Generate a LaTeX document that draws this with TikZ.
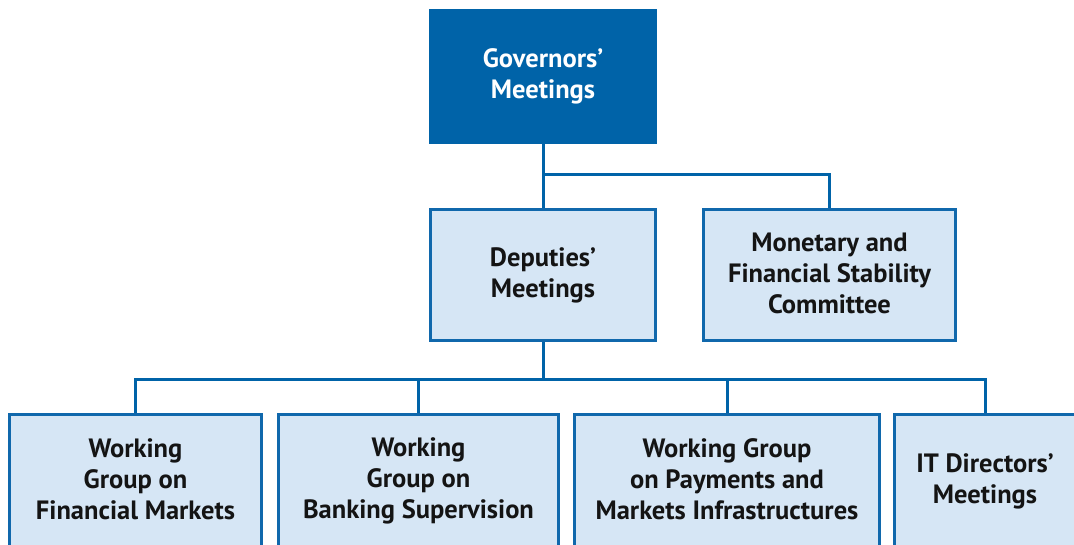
\documentclass[tikz,border=0pt]{standalone}
\usepackage{fontspec}
\setmainfont{PT Sans}
\definecolor{darkblue}{RGB}{0,99,168}
\definecolor{edgeblue}{RGB}{16,104,172}
\definecolor{lightfill}{RGB}{214,230,245}
\definecolor{ink}{RGB}{20,20,20}
\begin{document}
\begin{tikzpicture}[x=1pt,y=-1pt,
  txt/.style={align=center, inner sep=0pt,
    font=\fontsize{26.5}{31}\selectfont\bfseries,
    execute at begin node=\rule{0pt}{29pt},
    execute at end node=\rule[-4pt]{0pt}{4pt}},
  box/.style={txt, rectangle, draw=edgeblue, line width=3pt, fill=lightfill, text=ink},
  topbox/.style={txt, rectangle, fill=darkblue, text=white},
  conn/.style={draw=darkblue, line width=3pt, line join=miter}]
\useasboundingbox (0,0) rectangle (1074,544);
\clip (0,0) rectangle (1074,544);
\fill[white] (0,0) rectangle (1074,544);

\node[topbox, minimum width=228pt, minimum height=135pt] (gov) at (543,76.5) {Governors'\\Meetings};
\node[box, minimum width=225pt, minimum height=131pt] (dep) at (543,275) {Deputies'\\Meetings};
\node[box, minimum width=252pt, minimum height=131pt] (mfsc) at (829.5,275) {Monetary and\\Financial Stability\\Committee};

\node[box, minimum width=252pt, minimum height=133pt] (wgfm) at (135.5,481) {Working\\Group on\\Financial Markets};
\node[box, minimum width=280pt, minimum height=133pt] (wgbs) at (418.5,481) {Working\\Group on\\Banking Supervision};
\node[box, minimum width=305pt, minimum height=133pt] (pmi) at (727,481) {Working Group\\on Payments and\\Markets Infrastructures};
\node[box, minimum width=181pt, minimum height=133pt] (itd) at (985,481) {IT Directors'\\Meetings};

\coordinate (j1) at (543,174);
\coordinate (j2) at (543,379);

\draw[conn] (gov.south) -- (dep.north);
\draw[conn] (j1) -| (mfsc.north);
\draw[conn] (dep.south) -- (j2);
\draw[conn] (wgfm.north) |- (j2) -| (itd.north);
\draw[conn] (wgbs.north) -- (wgbs.north |- j2);
\draw[conn] (pmi.north) -- (pmi.north |- j2);
\end{tikzpicture}
\end{document}
